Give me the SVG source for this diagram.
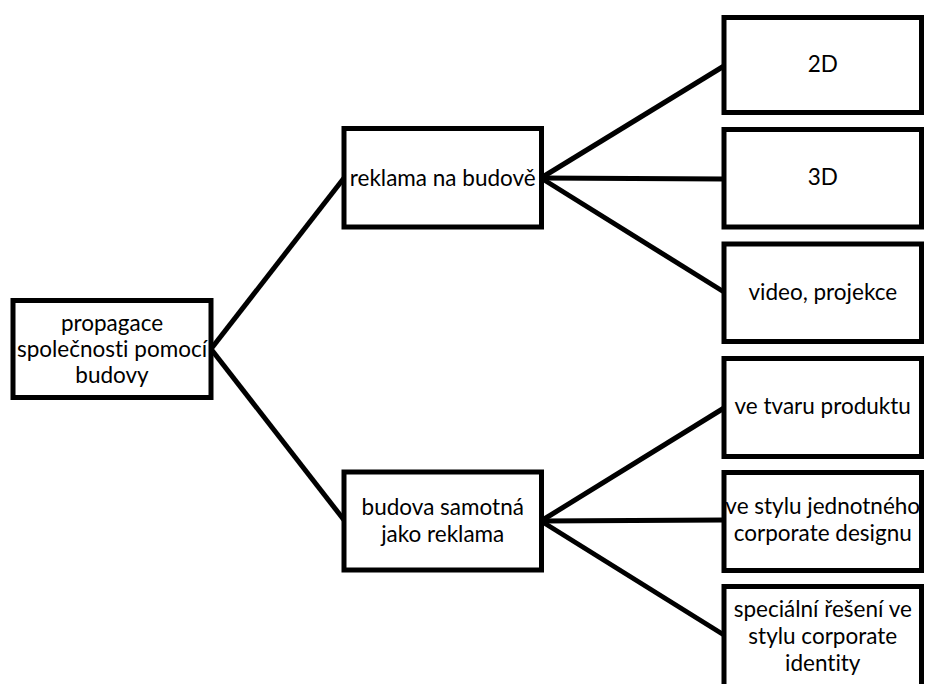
<svg xmlns="http://www.w3.org/2000/svg" width="925" height="684" viewBox="0 0 925 684">
<style>
.box{fill:#fff;stroke:#000;stroke-width:5}
.t{font-family:Lato,"Open Sans","Liberation Sans",sans-serif;font-size:22.5px;fill:#000;text-anchor:middle;font-variant-ligatures:none}
.c{stroke:#000;stroke-width:5;fill:none;stroke-linecap:butt}
</style>
<rect width="925" height="684" fill="#fff"/>
<g id="connectors">
<line class="c" x1="211" y1="349" x2="344" y2="178"/>
<line class="c" x1="211" y1="349" x2="344" y2="520"/>
<line class="c" x1="541" y1="178" x2="724" y2="66"/>
<line class="c" x1="541" y1="178" x2="724" y2="179"/>
<line class="c" x1="541" y1="178" x2="724" y2="292"/>
<line class="c" x1="541" y1="521" x2="724" y2="408"/>
<line class="c" x1="541" y1="521" x2="724" y2="520"/>
<line class="c" x1="541" y1="521" x2="724" y2="635"/>
</g>
<g id="root">
<rect class="box" x="13" y="300.5" width="198" height="97"/>
<text class="t" x="112" y="331">propagace</text>
<text class="t" x="112" y="357">společnosti pomocí</text>
<text class="t" x="112" y="383">budovy</text>
</g>
<g id="reklama">
<rect class="box" x="344" y="128.5" width="197.5" height="98.5"/>
<text class="t" x="442.75" y="186">reklama na budově</text>
</g>
<g id="budova">
<rect class="box" x="344" y="472" width="197.5" height="98"/>
<text class="t" x="442.75" y="515">budova samotná</text>
<text class="t" x="442.75" y="542">jako reklama</text>
</g>
<g id="n2d">
<rect class="box" x="724" y="17.5" width="197.5" height="95"/>
<text class="t" x="822.75" y="72">2D</text>
</g>
<g id="n3d">
<rect class="box" x="724" y="129.5" width="197.5" height="97.5"/>
<text class="t" x="822.75" y="185">3D</text>
</g>
<g id="video">
<rect class="box" x="724" y="244" width="197.5" height="97.5"/>
<text class="t" x="822.75" y="300">video, projekce</text>
</g>
<g id="tvar">
<rect class="box" x="724" y="358.5" width="197.5" height="98"/>
<text class="t" x="822.75" y="414">ve tvaru produktu</text>
</g>
<g id="styl">
<rect class="box" x="724" y="472.5" width="197.5" height="98"/>
<text class="t" x="822.75" y="514">ve stylu jednotného</text>
<text class="t" x="822.75" y="541">corporate designu</text>
</g>
<g id="special">
<rect class="box" x="724" y="586.5" width="197.5" height="104"/>
<text class="t" x="822.75" y="617">speciální řešení ve</text>
<text class="t" x="822.75" y="644">stylu corporate</text>
<text class="t" x="822.75" y="671">identity</text>
</g>
</svg>
